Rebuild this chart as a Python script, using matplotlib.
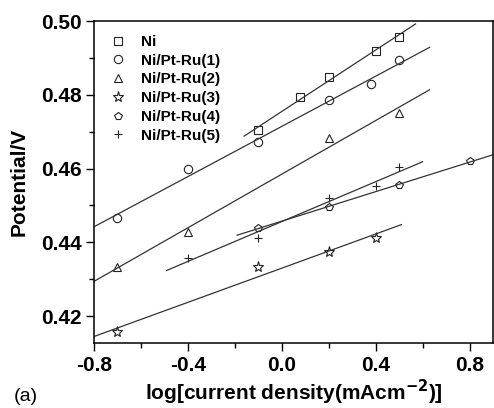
import numpy as np
import matplotlib
matplotlib.use("Agg")
import matplotlib.pyplot as plt
from matplotlib.ticker import MultipleLocator

plt.rcParams['font.family'] = ['Liberation Sans', 'DejaVu Sans']

# data
labels = ['Ni', 'Ni/Pt-Ru(1)', 'Ni/Pt-Ru(2)', 'Ni/Pt-Ru(3)', 'Ni/Pt-Ru(4)', 'Ni/Pt-Ru(5)']
markers = ['s', 'o', '^', '*', 'p', '+']

x_ni = [-0.1, 0.08, 0.2, 0.4, 0.5]
y_ni = [0.4704, 0.4794, 0.4848, 0.4920, 0.4957]
x_1 = [-0.7, -0.4, -0.1, 0.2, 0.38, 0.5]
y_1 = [0.4465, 0.4600, 0.4671, 0.4786, 0.4829, 0.4894]
x_2 = [-0.7, -0.4, 0.2, 0.5]
y_2 = [0.4332, 0.4429, 0.4683, 0.4750]
x_3 = [-0.7, -0.1, 0.2, 0.4]
y_3 = [0.4157, 0.4332, 0.4374, 0.4411]
x_4 = [-0.1, 0.2, 0.5, 0.8]
y_4 = [0.4440, 0.4495, 0.4555, 0.4620]
x_5 = [-0.4, -0.1, 0.2, 0.4, 0.5]
y_5 = [0.4359, 0.4411, 0.4519, 0.4552, 0.4603]

# x-range of each fitted line
fit_start = [-0.16, -0.8, -0.8, -0.8, -0.19, -0.49]
fit_end = [0.57, 0.63, 0.63, 0.51, 0.9, 0.6]

xs = [x_ni, x_1, x_2, x_3, x_4, x_5]
ys = [y_ni, y_1, y_2, y_3, y_4, y_5]

fig = plt.figure(figsize=(4.94, 4.08), dpi=100)
ax = fig.add_axes([0.190, 0.159, 0.808, 0.7895])

for i in range(6):
    ms = 8 if markers[i] == '*' else 6
    ax.plot(xs[i], ys[i], linestyle='none', marker=markers[i], ms=ms,
            mfc='none', mec='#222222', mew=0.8, label=labels[i])
    k, b = np.polyfit(xs[i], ys[i], 1)
    xl = np.array([fit_start[i], fit_end[i]])
    ax.plot(xl, k * xl + b, color='#333333', lw=0.9)

ax.set_xlim(-0.8, 0.9)
ax.set_ylim(0.4127, 0.50)
ax.xaxis.set_minor_locator(MultipleLocator(0.2))
ax.yaxis.set_minor_locator(MultipleLocator(0.01))
ax.set_xticks([-0.8, -0.4, 0.0, 0.4, 0.8])
ax.set_xticklabels(['-0.8', '-0.4', '0.0', '0.4', '0.8'])
ax.set_yticks([0.42, 0.44, 0.46, 0.48, 0.50])
ax.set_yticklabels(['0.42', '0.44', '0.46', '0.48', '0.50'])
ax.tick_params(which='major', direction='out', length=6, width=1, labelsize=15, pad=3)
ax.tick_params(which='minor', direction='out', length=3.5, width=1)
for t in ax.get_xticklabels() + ax.get_yticklabels():
    t.set_fontweight('bold')
for s in ax.spines.values():
    s.set_linewidth(1.1)

ax.set_xlabel('log[current density(mAcm$^{\\mathbf{-2}}$)]', fontsize=15, fontweight='bold', labelpad=2)
ax.set_ylabel('Potential/V', fontsize=15, fontweight='bold', labelpad=9)

leg = ax.legend(loc='upper left', bbox_to_anchor=(0.01, 0.99), frameon=False,
                prop={'weight': 'bold', 'size': 11}, handlelength=1.2,
                handletextpad=0.9, labelspacing=0.31, borderaxespad=0.3)

fig.text(0.028, 0.018, '(a)', fontsize=14)

plt.savefig('out.png', dpi=100)
